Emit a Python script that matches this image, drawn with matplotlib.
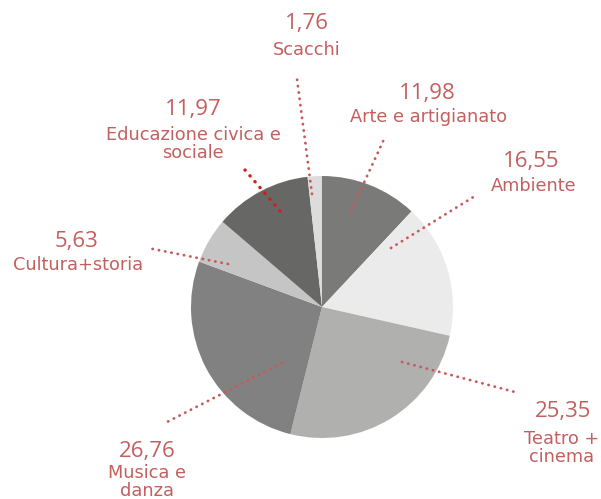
import matplotlib
matplotlib.use("Agg")
import matplotlib.pyplot as plt
import numpy as np

categories = ["Arte e artigianato", "Ambiente", "Teatro +\ncinema", "Musica e\ndanza",
              "Cultura+storia", "Educazione civica e\nsociale", "Scacchi"]
values = [11.98, 16.55, 25.35, 26.76, 5.63, 11.97, 1.76]
value_labels = ["11,98", "16,55", "25,35", "26,76", "5,63", "11,97", "1,76"]
colors = ["#7a7a78", "#ebebeb", "#b0b0ae", "#818181", "#c5c5c5", "#676765", "#dcdcdc"]

TXT = "#c45f5f"
LINE = "#c8595a"

W, H = 601, 499
CX, CY, R = 322, 307, 131

fig = plt.figure(figsize=(W / 100, H / 100), dpi=100)
ax = fig.add_axes([0, 0, 1, 1])
ax.pie(values, colors=colors, startangle=90, counterclock=False, radius=1,
       wedgeprops=dict(linewidth=0))
ax.set_xlim(-CX / R, (W - CX) / R)
ax.set_ylim(-(H - CY) / R, CY / R)
ax.set_aspect("auto")
ax.axis("off")

def px(x, y):
    return ((x - CX) / R, (CY - y) / R)

# layout: (inner point, outer point, number text pos, label text pos, line color)
layout = [
    ((351, 211), (385, 137), (427, 93), (428, 117), LINE),
    ((391, 248), (475, 196), (531, 161), (534, 186), LINE),
    ((402, 362), (515, 392), (563, 412), (562, 448), LINE),
    ((282, 363), (167, 422), (147, 451), (147, 482), LINE),
    ((228, 264), (148, 248), (77, 241), (78, 265), LINE),
    ((280, 211), (245, 170), (193, 109), (193, 144), "#d81a1a"),
    ((312, 194), (297, 79), (307, 23), (307, 50), LINE),
]

for i, (inner, outer, npos, lpos, lc) in enumerate(layout):
    x0, y0 = px(*inner)
    x1, y1 = px(*outer)
    ax.plot([x0, x1], [y0, y1], color=lc, linestyle=(0, (0.1, 2.2)),
            linewidth=2.4 if lc != LINE else 2.0, solid_capstyle="round",
            dash_capstyle="round")
    nx, ny = px(*npos)
    ax.text(nx, ny, value_labels[i], color=TXT, fontsize=16, ha="center",
            va="center", family="Open Sans")
    lx, ly = px(*lpos)
    ax.text(lx, ly, categories[i], color=TXT, fontsize=12.8, ha="center",
            va="center", family="DejaVu Sans", linespacing=1.05)

fig.savefig("out.png", dpi=100)
